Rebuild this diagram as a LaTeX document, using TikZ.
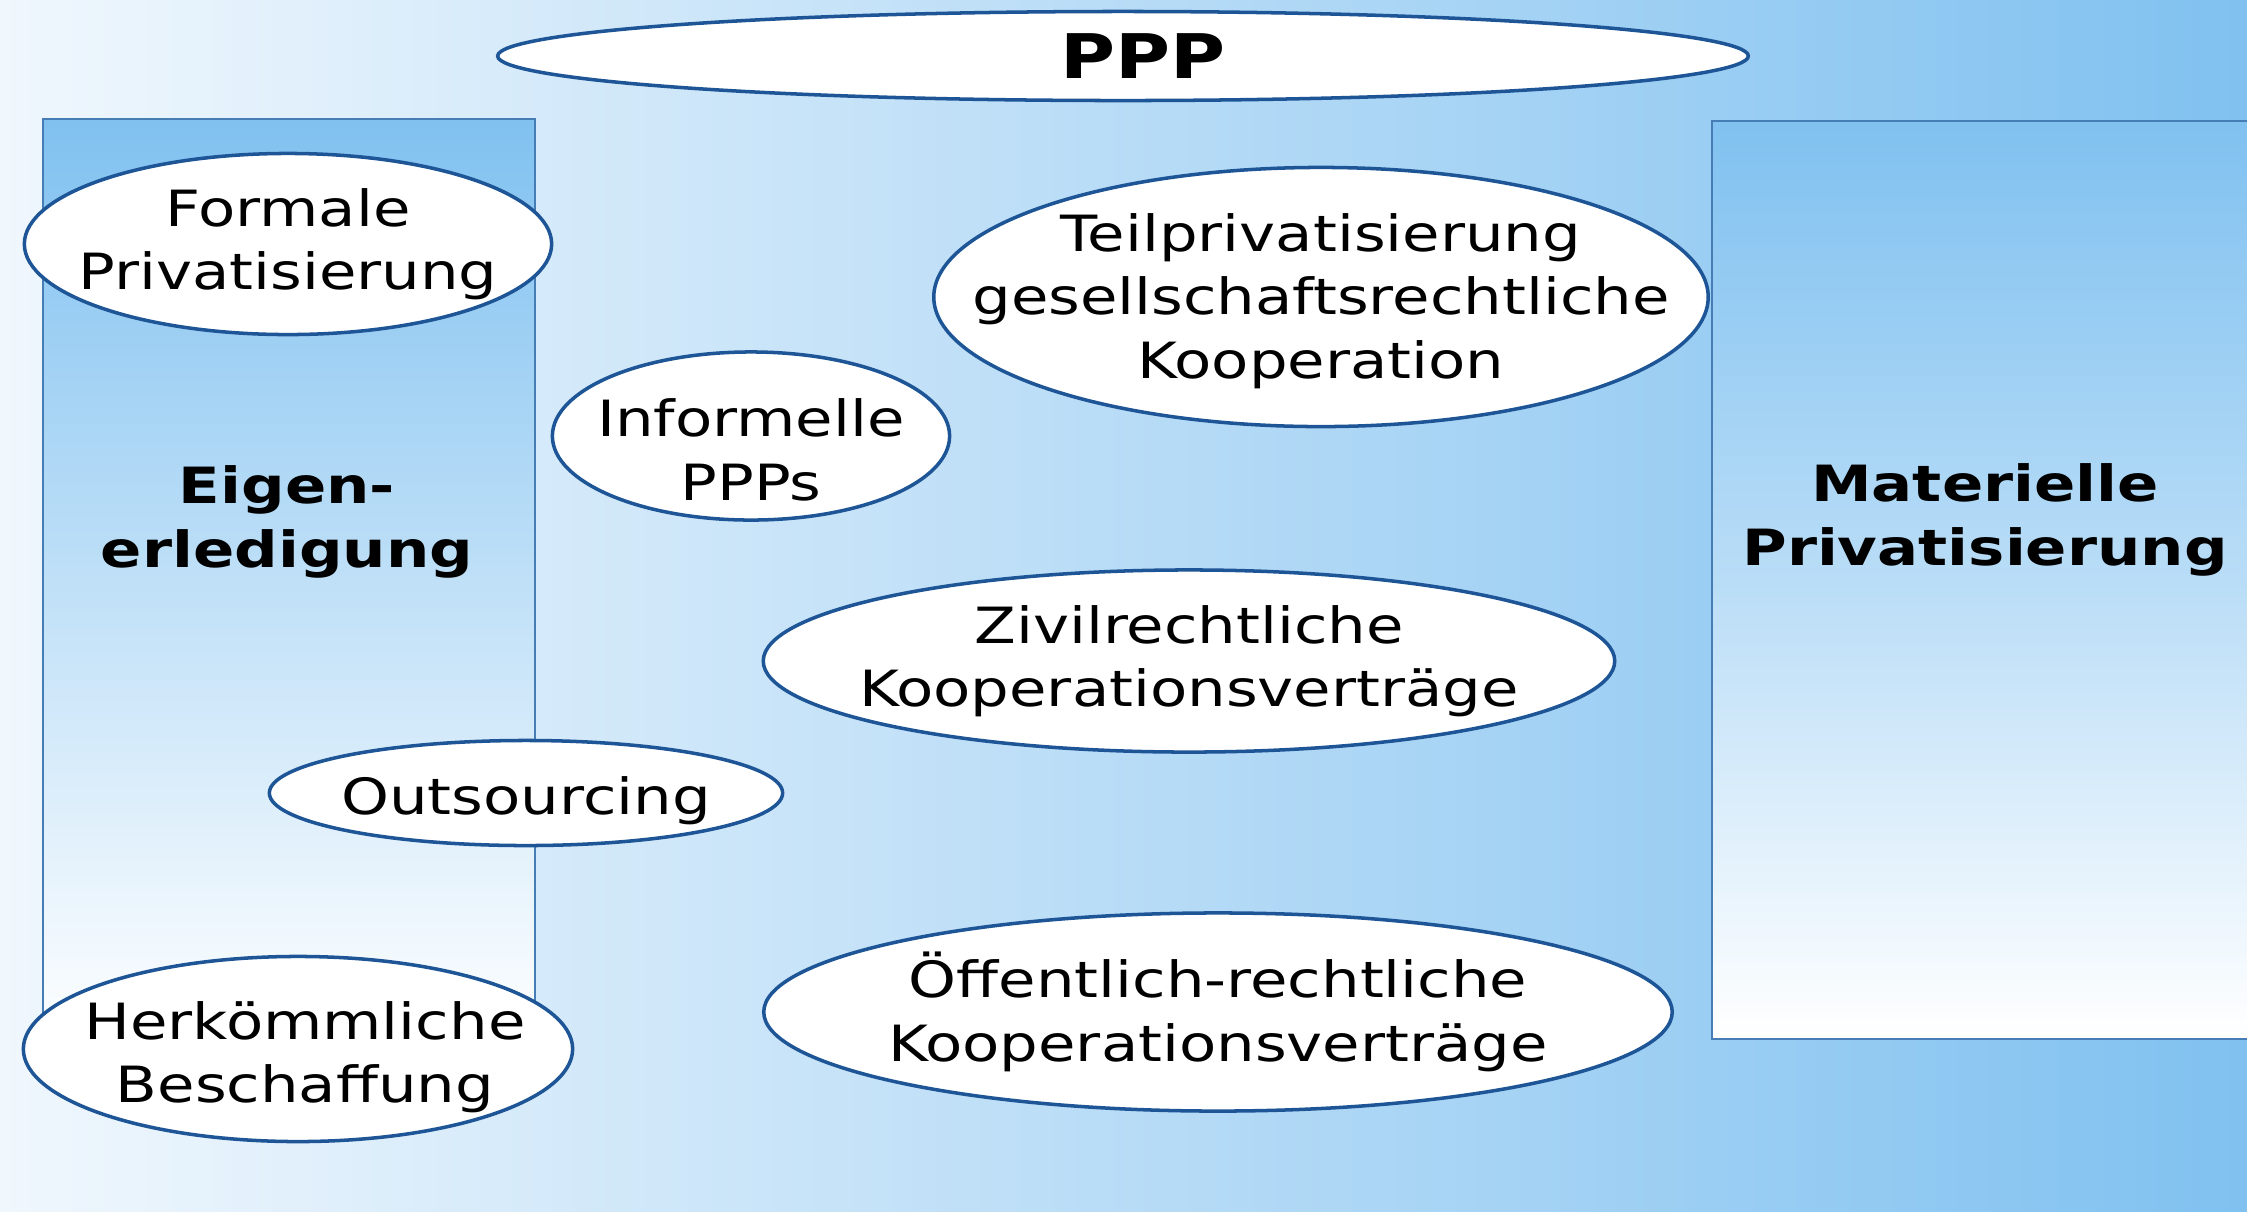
\documentclass[tikz,border=0pt]{standalone}
\usepackage{fontspec}
\setmainfont{DejaVu Sans}[FakeStretch=1.22]
\usetikzlibrary{shapes.geometric,positioning}
\definecolor{pppblue}{RGB}{30,85,150}
\definecolor{pppline}{RGB}{70,125,180}
\definecolor{pppsky}{RGB}{128,193,240}
\definecolor{ppppale}{RGB}{240,247,253}

\begin{document}
\begin{tikzpicture}[x=0.01cm, y=-0.01cm,
    oval/.style={ellipse, draw=pppblue, line width=1pt, fill=white, inner sep=0pt},
    ovaltext/.style={align=center, font=\fontsize{14.2}{18}\selectfont},
    column/.style={rectangle, draw=pppline, line width=0.6pt, inner sep=0pt},
    columntext/.style={align=center, font=\fontsize{14.2}{18}\selectfont\bfseries}]
    % Background
    \clip (0,0) rectangle (2247,1211);
    \shade[left color=ppppale, right color=pppsky] (0,0) rectangle (2247,1211);

    % Columns left and right
    \node[column, top color=pppsky, bottom color=white, minimum width=4.92cm, minimum height=9.3cm] (eigen) at (289,584) {};
    \node[column, top color=pppsky, bottom color=white, middle color=pppsky!55!white, minimum width=5.48cm, minimum height=9.17cm] (materiell) at (1986,580) {};
    \node[columntext] (eigenT) at (287,522) {Eigen-\\erledigung};
    \node[columntext] (materiellT) at (1985,520) {Materielle\\Privatisierung};

    % Ovals
    \node[oval, minimum width=12.5cm, minimum height=0.89cm] (ppp) at (1123,56) {};
    \node[font=\fontsize{17.5}{20}\selectfont\bfseries, xshift=0.2cm] (pppT) at (ppp) {PPP};

    \node[oval, minimum width=5.27cm, minimum height=1.81cm] (formal) at (288,244) {};
    \node[ovaltext] (formalT) at (formal) {Formale\\Privatisierung};

    \node[oval, minimum width=7.74cm, minimum height=2.59cm] (teil) at (1321,297) {};
    \node[ovaltext, yshift=-0.04cm] (teilT) at (teil) {Teilprivatisierung\\gesellschaftsrechtliche\\Kooperation};

    \node[oval, minimum width=3.97cm, minimum height=1.68cm] (informell) at (751,436) {};
    \node[ovaltext, yshift=-0.14cm] (informellT) at (informell) {Informelle\\PPPs};

    \node[oval, minimum width=8.51cm, minimum height=1.82cm] (zivil) at (1189,661) {};
    \node[ovaltext] (zivilT) at (zivil) {Zivilrechtliche\\Kooperationsverträge};

    \node[oval, minimum width=5.13cm, minimum height=1.05cm] (outsourcing) at (526,793) {};
    \node[ovaltext, yshift=-0.08cm] (outsourcingT) at (outsourcing) {Outsourcing};

    \node[oval, minimum width=9.08cm, minimum height=1.98cm] (oeffentlich) at (1218,1012) {};
    \node[ovaltext] (oeffentlichT) at (oeffentlich) {Öffentlich-rechtliche\\Kooperationsverträge};

    \node[oval, minimum width=5.49cm, minimum height=1.85cm] (herkoemmlich) at (298,1049) {};
    \node[ovaltext, xshift=0.07cm, yshift=-0.08cm] (herkoemmlichT) at (herkoemmlich) {Herkömmliche\\Beschaffung};
\end{tikzpicture}
\end{document}
